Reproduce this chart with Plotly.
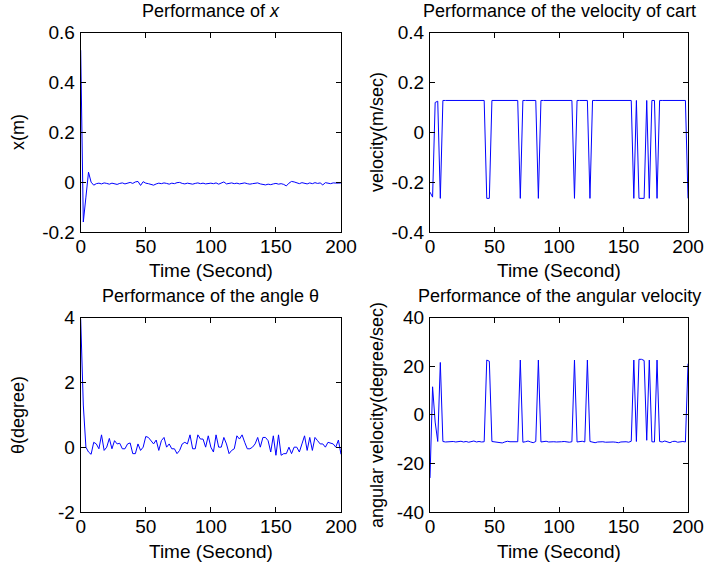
import plotly.graph_objects as go

# ---------------- data ----------------
t = [2 * i for i in range(101)]

x_pos = [0.53, -0.16, -0.06, 0.04, 0.0, -0.012, -0.006, -0.004, -0.007, -0.003,
         -0.005, -0.008, -0.004, -0.006, -0.009, -0.005, -0.003, -0.007, -0.004, -0.001,
         -0.005, 0.001, 0.003, -0.013, 0.002, -0.004, -0.006, -0.008, -0.012, -0.007,
         -0.004, -0.006, -0.003, -0.005, -0.008, -0.004, -0.006, -0.002, -0.001, -0.005,
         -0.007, -0.004, -0.006, -0.008, -0.005, -0.003, -0.006, -0.004, -0.007, -0.005,
         -0.004, -0.006, -0.003, -0.008, -0.005, 0.001, -0.007, -0.005, -0.003, -0.006,
         -0.004, -0.007, -0.005, -0.003, -0.006, -0.008, -0.006, -0.004, -0.003, -0.007,
         -0.009, -0.011, -0.008, -0.010, -0.007, -0.005, -0.008, -0.006, -0.009, -0.015,
         -0.004, 0.003, 0.001, -0.003, -0.006, -0.002, -0.005, -0.007, -0.003, -0.006,
         -0.002, -0.005, -0.003, -0.011, -0.002, -0.004, -0.006, -0.003, -0.005, -0.004,
         -0.003]

vel = [-0.24, -0.26, 0.12, 0.125, -0.265, 0.128, 0.128, 0.128, 0.128, 0.128,
       0.128, 0.128, 0.128, 0.128, 0.128, 0.128, 0.128, 0.128, 0.128, 0.128,
       0.128, 0.128, -0.265, -0.265, 0.128, 0.128, 0.128, 0.128, 0.128, 0.128,
       0.128, 0.128, 0.128, 0.128, 0.128, -0.265, 0.128, 0.128, 0.128, 0.128,
       0.128, 0.128, -0.265, 0.128, 0.128, 0.128, 0.128, 0.128, 0.128, 0.128,
       0.128, 0.128, 0.128, 0.128, 0.128, 0.128, -0.265, 0.128, 0.128, 0.128,
       0.128, 0.128, -0.265, 0.128, 0.128, 0.128, 0.128, 0.128, 0.128, 0.128,
       0.128, 0.128, 0.128, 0.128, 0.128, 0.128, 0.128, 0.128, 0.128, -0.265,
       0.128, -0.265, -0.265, -0.265, 0.128, -0.265, 0.128, 0.128, -0.265, 0.128,
       0.128, 0.128, 0.128, 0.128, 0.128, 0.128, 0.128, 0.128, 0.128, 0.128,
       -0.265]

theta = [3.95, 1.3, 0.0, -0.15, -0.22,
         0.15, 0.1, -0.05, 0.38, -0.1, 0.0, 0.27, -0.05, 0.2, 0.1,
         0.12, -0.05, -0.05, 0.1, 0.13, -0.2, -0.2, 0.1, -0.1, 0.0,
         0.33, 0.3, 0.2, 0.1, 0.22, -0.1, 0.2, 0.3, 0.0, 0.1,
         -0.05, -0.05, -0.2, -0.1, 0.1, 0.15, 0.1, 0.38, -0.05, -0.05,
         0.38, 0.25, 0.25, 0.0, 0.35, 0.0, -0.15, 0.38, 0.0, 0.0,
         0.3, 0.1, -0.2, -0.1, -0.05, 0.35, 0.25, 0.38, 0.15, -0.05,
         -0.05, 0.0, 0.1, 0.3, 0.0, 0.3, 0.3, 0.2, -0.15, 0.35,
         -0.25, 0.38, -0.25, -0.2, -0.2, 0.0, -0.2, 0.0, 0.0, -0.15,
         0.1, 0.35, -0.1, 0.3, -0.1, 0.3, 0.2, 0.1, 0.1, 0.0,
         0.15, 0.12, 0.1, 0.0, 0.22, -0.22]

angvel = [-26, 11.5, -3, -11, 21.5, -11, -11.2, -11.1, -11.3, -11.0,
          -11.2, -11.1, -10.9, -11.2, -11.0, -11.3, -11.1, -10.8, -11.2, -11.0,
          -11.2, -11.1, 22.5, 22.0, -11.0, -11.2, -11.1, -11.4, -11.6, -11.2,
          -10.9, -11.1, -11.2, -11.0, -11.1, 22.5, -11.3, -11.1, -10.8, -11.2,
          -11.5, -11.0, 22.5, -11.2, -11.1, -10.9, -11.2, -11.0, -11.1, -11.2,
          -11.3, -11.1, -11.0, -11.2, -11.3, -11.1, 22.5, -11.2, -11.1, -10.9,
          -11.2, 22.5, -11.0, -11.3, -11.5, -11.2, -11.0, -11.1, -11.3, -11.2,
          -11.0, -11.2, -11.3, -11.5, -11.2, -11.0, -11.1, -11.3, -10.9, 22.5,
          -11.0, 22.8, 22.8, 22.3, -10.5, 22.5, -11.1, -11.2, 22.5, -11.0,
          -11.2, -10.8, -11.3, -11.5, -11.0, -10.9, -11.3, -11.1, -11.0, -11.2,
          21.0]

x_ticks = [0, 50, 100, 150, 200]
y1_ticks = [-0.2, 0, 0.2, 0.4, 0.6]
y1_labels = ["-0.2", "0", "0.2", "0.4", "0.6"]
y2_ticks = [-0.4, -0.2, 0, 0.2, 0.4]
y2_labels = ["-0.4", "-0.2", "0", "0.2", "0.4"]
y3_ticks = [-2, 0, 2, 4]
y3_labels = ["-2", "0", "2", "4"]
y4_ticks = [-40, -20, 0, 20, 40]
y4_labels = ["-40", "-20", "0", "20", "40"]

titles = ["Performance of <i>x</i>", "Performance of the velocity of cart",
          "Performance of the angle θ", "Performance of the angular velocity"]
ylabels = ["x(m)", "velocity(m/sec)", "θ(degree)", "angular velocity(degree/sec)"]
xlabel = "Time (Second)"

# ---------------- layout ----------------
W, H = 706, 566
FONT = "Liberation Sans, Arial, Helvetica, sans-serif"
TICK_SIZE = 19
dom_x = [[80.7 / W, 341 / W], [430 / W, 688 / W]]
dom_y_top = [(H - 232) / H, (H - 32.7) / H]
dom_y_bot = [(H - 512) / H, (H - 317.5) / H]

fig = go.Figure()
series = [x_pos, vel, theta, angvel]
for i, s in enumerate(series):
    fig.add_trace(go.Scatter(x=t, y=s, mode="lines",
                             line=dict(color="#0000ff", width=1),
                             xaxis="x" + ("" if i == 0 else str(i + 1)),
                             yaxis="y" + ("" if i == 0 else str(i + 1)),
                             showlegend=False, hoverinfo="skip"))

def xax(dom, anchor):
    return dict(domain=dom, anchor=anchor, range=[0, 200], tickvals=x_ticks,
                ticks="inside", ticklen=5, mirror="allticks", showline=True,
                linecolor="black", linewidth=1, tickcolor="black",
                showgrid=False, zeroline=False, ticklabelstandoff=-3,
                automargin=False,
                tickfont=dict(family=FONT, size=TICK_SIZE, color="black"))

def yax(dom, anchor, rng, tv, tt):
    return dict(domain=dom, anchor=anchor, range=rng, tickvals=tv, ticktext=tt,
                ticks="inside", ticklen=5, mirror="allticks", showline=True,
                linecolor="black", linewidth=1, tickcolor="black",
                showgrid=False, zeroline=False, ticklabelstandoff=1,
                automargin=False,
                tickfont=dict(family=FONT, size=TICK_SIZE, color="black"))

fig.update_layout(
    width=W, height=H, margin=dict(l=0, r=0, t=0, b=0, pad=0, autoexpand=False),
    paper_bgcolor="white", plot_bgcolor="white",
    xaxis=xax(dom_x[0], "y"),
    yaxis=yax(dom_y_top, "x", [-0.2, 0.6], y1_ticks, y1_labels),
    xaxis2=xax(dom_x[1], "y2"),
    yaxis2=yax(dom_y_top, "x2", [-0.4, 0.4], y2_ticks, y2_labels),
    xaxis3=xax(dom_x[0], "y3"),
    yaxis3=yax(dom_y_bot, "x3", [-2, 4], y3_ticks, y3_labels),
    xaxis4=xax(dom_x[1], "y4"),
    yaxis4=yax(dom_y_bot, "x4", [-40, 40], y4_ticks, y4_labels),
)

anns = []
centers_x = [(80.7 + 341) / 2, (430 + 688) / 2, (80.7 + 341) / 2, (430 + 688) / 2]
title_y = [11, 11, 296, 296]
xlab_y = [270, 270, 551, 551]
ylab_x = [18, 377, 18, 377]
ylab_y = [132, 132, 415, 415]
for i in range(4):
    anns.append(dict(text=titles[i], x=centers_x[i] / W, y=1 - title_y[i] / H,
                     xref="paper", yref="paper", xanchor="center", yanchor="middle",
                     showarrow=False, font=dict(family=FONT, size=18, color="black")))
    anns.append(dict(text=xlabel, x=centers_x[i] / W, y=1 - xlab_y[i] / H,
                     xref="paper", yref="paper", xanchor="center", yanchor="middle",
                     showarrow=False, font=dict(family=FONT, size=19, color="black")))
    anns.append(dict(text=ylabels[i], x=ylab_x[i] / W, y=1 - ylab_y[i] / H,
                     xref="paper", yref="paper", xanchor="center", yanchor="middle",
                     textangle=-90, showarrow=False,
                     font=dict(family=FONT, size=18, color="black")))
fig.update_layout(annotations=anns)

fig.write_html("out.html")
